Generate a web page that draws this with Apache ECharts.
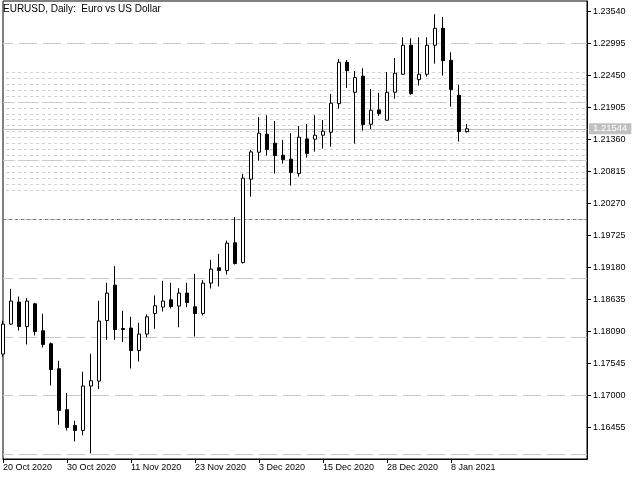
<!DOCTYPE html>
<html><head><meta charset="utf-8">
<script src="https://cdn.jsdelivr.net/npm/echarts@6/dist/echarts.min.js"></script>
<style>html,body{margin:0;padding:0;background:#fff}#c{width:640px;height:480px}</style>
</head><body><div id="c"></div>
<script>
const titleText = 'EURUSD, Daily:  Euro vs US Dollar';
const dates = ['20 Oct 2020','21 Oct 2020','22 Oct 2020','23 Oct 2020','26 Oct 2020','27 Oct 2020','28 Oct 2020','29 Oct 2020','30 Oct 2020',
'2 Nov 2020','3 Nov 2020','4 Nov 2020','5 Nov 2020','6 Nov 2020','9 Nov 2020','10 Nov 2020','11 Nov 2020','12 Nov 2020','13 Nov 2020','16 Nov 2020','17 Nov 2020','18 Nov 2020','19 Nov 2020','20 Nov 2020','23 Nov 2020','24 Nov 2020','25 Nov 2020','26 Nov 2020','27 Nov 2020','30 Nov 2020',
'1 Dec 2020','2 Dec 2020','3 Dec 2020','4 Dec 2020','7 Dec 2020','8 Dec 2020','9 Dec 2020','10 Dec 2020','11 Dec 2020','14 Dec 2020','15 Dec 2020','16 Dec 2020','17 Dec 2020','18 Dec 2020','21 Dec 2020','22 Dec 2020','23 Dec 2020','24 Dec 2020','28 Dec 2020','29 Dec 2020','30 Dec 2020','31 Dec 2020',
'4 Jan 2021','5 Jan 2021','6 Jan 2021','7 Jan 2021','8 Jan 2021','11 Jan 2021','12 Jan 2021'];
const opens = [1.17705,1.18216,1.18591,1.18175,1.18562,1.18102,1.17881,1.17455,1.16757,1.16489,
1.16404,1.17160,1.17245,1.18277,1.18880,1.18141,1.18148,1.17766,1.18046,1.18397,
1.18506,1.18630,1.18523,1.18744,1.18511,1.18397,1.18914,1.19175,1.19129,1.19601,
1.19265,1.20686,1.21145,1.21452,1.21299,1.21094,1.21026,1.20781,1.21372,1.21367,
1.21435,1.21486,1.21973,1.22678,1.22167,1.22440,1.21622,1.21866,1.21690,1.22167,
1.22474,1.22968,1.22382,1.22474,1.22968,1.23257,1.22712,1.22116,1.21496];
const closes = [1.18216,1.18608,1.18175,1.18608,1.18090,1.17869,1.17443,1.16745,1.16455,1.16404,
1.17160,1.17250,1.18267,1.18744,1.18124,1.18124,1.17766,1.18046,1.18340,1.18528,
1.18608,1.18516,1.18744,1.18584,1.18397,1.18914,1.19153,1.19129,1.19596,1.19248,
1.20703,1.21150,1.21469,1.21190,1.21088,1.21019,1.20798,1.21401,1.21122,1.21435,
1.21503,1.21980,1.22678,1.22535,1.22416,1.21615,1.21861,1.21803,1.22167,1.22491,
1.22968,1.22143,1.22474,1.22968,1.23257,1.22705,1.22212,1.21496,1.21544];
const highs = [1.18272,1.18817,1.18686,1.18659,1.18579,1.18392,1.17903,1.17591,1.17041,1.16569,
1.17404,1.17710,1.18613,1.18919,1.19204,1.18443,1.18340,1.18238,1.18380,1.18703,
1.18954,1.18919,1.18829,1.18919,1.19073,1.18965,1.19311,1.19413,1.19640,1.20038,
1.20776,1.21185,1.21742,1.21776,1.21678,1.21355,1.21469,1.21593,1.21627,1.21776,
1.21696,1.22138,1.22734,1.22717,1.22530,1.22576,1.22223,1.22155,1.22513,1.22751,
1.23104,1.23087,1.23104,1.23104,1.23496,1.23450,1.22849,1.22292,1.21627];
const lows = [1.17659,1.18204,1.18107,1.17869,1.18022,1.17818,1.17170,1.16501,1.16404,1.16217,
1.16319,1.16012,1.17109,1.17949,1.17949,1.17915,1.17460,1.17579,1.17991,1.18136,
1.18431,1.18482,1.18162,1.18506,1.18005,1.18363,1.18822,1.18856,1.19061,1.19231,
1.19248,1.20389,1.21002,1.21088,1.20781,1.20951,1.20577,1.20730,1.21053,1.21156,
1.21207,1.21241,1.21888,1.22241,1.21292,1.21513,1.21537,1.21764,1.21687,1.22058,
1.22462,1.22126,1.22280,1.22433,1.22654,1.22450,1.21922,1.21326,1.21479];
const priceTicks = [1.16455,1.17000,1.17545,1.18090,1.18635,1.19180,1.19725,1.20270,1.20815,1.21360,1.21905,1.22450,1.22995,1.23540];
const gridLevels = [1.16,1.17,1.18,1.19,1.20,1.21,1.22,1.23];
const dottedLevels = [1.205,1.206,1.207,1.208,1.209,1.210,1.211,1.212,1.213,1.214,1.215,1.216,1.217,1.218,1.219,1.220,1.221,1.222,1.223,1.224,1.225];
const darkLevel = 1.20;
const bidPrice = 1.21544;
const yMin = 1.15917, yMax = 1.23722;
const labelEvery = 8;
const rightShiftBars = 15;

const categories = dates.concat(new Array(rightShiftBars).fill(''));
const candles = dates.map((d, i) => [opens[i], closes[i], lows[i], highs[i]]);
const FONT = 'Liberation Sans';
const showIdx = (i) => i % labelEvery === 0 && i < dates.length;

const markData = [];
gridLevels.forEach(v => markData.push({yAxis: v, lineStyle: {color: '#c8c8c8', width: 1, type: [18, 6], dashOffset: 8}}));
dottedLevels.forEach(v => markData.push({yAxis: v, lineStyle: {color: '#d0d0d0', width: 1, type: [3, 3], dashOffset: 3}}));
markData.push({yAxis: darkLevel, lineStyle: {color: '#7a7a7a', width: 1, type: [3, 3]}});
markData.push({yAxis: bidPrice, lineStyle: {color: '#c0c0c0', width: 1, type: 'solid'},
  label: {show: true, position: 'end', formatter: bidPrice.toFixed(5), color: '#ffffff', backgroundColor: '#c0c0c0',
    padding: [1, 4, 0, 4], distance: 2, fontFamily: FONT, fontSize: 9.5}});

const chart = echarts.init(document.getElementById('c'), null, {renderer: 'canvas'});
chart.setOption({
  animation: false,
  backgroundColor: '#ffffff',
  title: {text: titleText, left: 3, top: 4, padding: 0,
    textStyle: {fontFamily: FONT, fontSize: 10, fontWeight: 'normal', color: '#000'}},
  grid: {left: 2, top: 1, right: 53, bottom: 21, show: true, borderColor: '#000', borderWidth: 1, backgroundColor: 'transparent'},
  xAxis: {
    type: 'category', data: categories, boundaryGap: false,
    axisLine: {show: true, lineStyle: {color: '#000', width: 1}},
    axisTick: {show: true, interval: (i) => showIdx(i), length: 4, lineStyle: {color: '#000'}},
    axisLabel: {show: true, interval: (i) => showIdx(i), align: 'left', margin: 4, color: '#000', fontFamily: FONT, fontSize: 9},
    splitLine: {show: false}
  },
  yAxis: {
    type: 'value', position: 'right', min: yMin, max: yMax, scale: true,
    axisLine: {show: true, lineStyle: {color: '#000', width: 1}},
    axisTick: {show: true, customValues: priceTicks, length: 4, inside: false, lineStyle: {color: '#000'}},
    axisLabel: {show: true, customValues: priceTicks, margin: 6, color: '#000', fontFamily: FONT, fontSize: 9,
      formatter: (v) => v.toFixed(5)},
    splitLine: {show: false}
  },
  series: [{
    type: 'candlestick', data: candles, barWidth: 4, z: 3, clip: true,
    itemStyle: {color: '#ffffff', color0: '#000000', borderColor: '#000000', borderColor0: '#000000', borderWidth: 1},
    markLine: {silent: true, symbol: ['none', 'none'], z: 1, animation: false, precision: 5,
      label: {show: false}, data: markData}
  }]
});
</script></body></html>
